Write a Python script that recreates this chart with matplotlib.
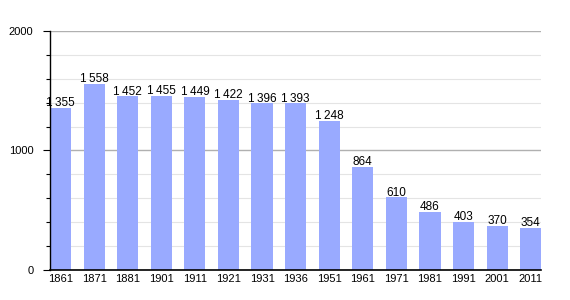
import matplotlib.pyplot as plt
from matplotlib.ticker import MultipleLocator

plt.rcParams['font.family'] = ['Liberation Sans', 'DejaVu Sans']

years = ['1861', '1871', '1881', '1901', '1911', '1921', '1931', '1936',
         '1951', '1961', '1971', '1981', '1991', '2001', '2011']
population = [1355, 1558, 1452, 1455, 1449, 1422, 1396, 1393,
              1248, 864, 610, 486, 403, 370, 354]

def fmt(v):
    s = str(v)
    if v >= 1000:
        s = s[:-3] + '\u2009' + s[-3:]
    return s

fig = plt.figure(figsize=(5.7, 3.0), dpi=100)
ax = fig.add_axes([0.0877, 0.1, 0.862, 0.797])

x = range(len(years))
w = 0.63
ax.bar(x, population, width=w, color='#99aaff', zorder=2)
for i, v in zip(x, population):
    ax.text(i, v - 12, fmt(v), ha='center', va='bottom', fontsize=8.5, color='black', zorder=3)

ax.set_xlim(-w / 2, len(years) - 1 + w / 2)
ax.set_ylim(0, 2000)
ax.set_xticks(list(x))
ax.set_xticklabels(years, fontsize=8)
ax.set_yticks([0, 1000, 2000])
ax.set_yticklabels(['0', '1000', '2000'], fontsize=8)
ax.yaxis.set_minor_locator(MultipleLocator(200))
ax.tick_params(axis='x', length=0, pad=3)
ax.tick_params(axis='y', which='major', length=5, width=0.8, pad=7)
ax.tick_params(axis='y', which='minor', length=3, width=0.8)

ax.grid(axis='y', which='major', color='#b0b0b0', linewidth=1, zorder=0)
ax.grid(axis='y', which='minor', color='#e4e4e4', linewidth=0.8, zorder=0)
ax.set_axisbelow(True)

for side in ['top', 'right']:
    ax.spines[side].set_visible(False)
ax.spines['left'].set_color('black')
ax.spines['bottom'].set_color('black')
ax.spines['left'].set_linewidth(1)
ax.spines['bottom'].set_linewidth(1.2)

fig.savefig('out.png', dpi=100)
